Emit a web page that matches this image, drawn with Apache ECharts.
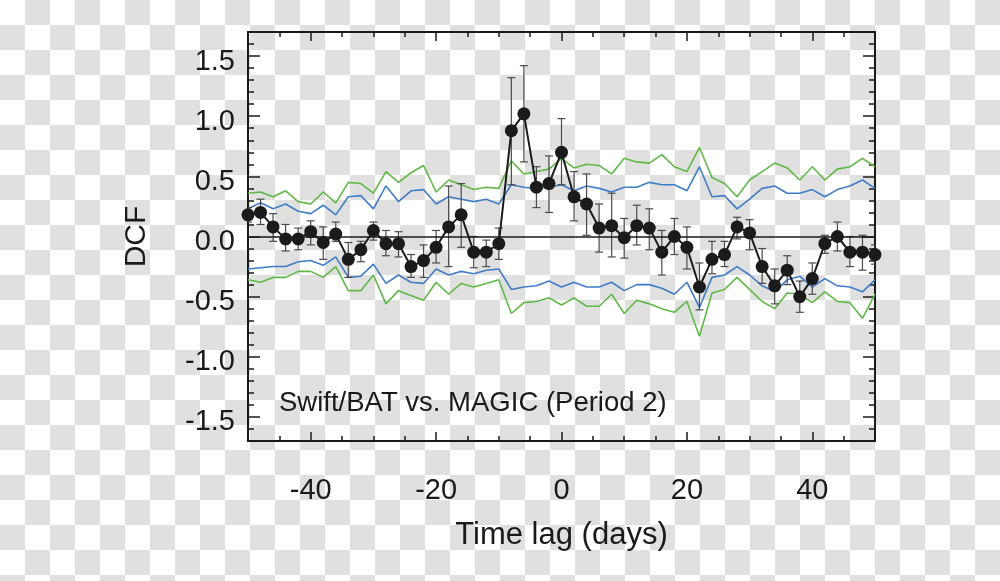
<!DOCTYPE html>
<html>
<head>
<meta charset="utf-8">
<script src="https://cdn.jsdelivr.net/npm/echarts@6/dist/echarts.min.js"></script>
<style>
html,body{margin:0;padding:0;}
body{width:1000px;height:581px;background:repeating-conic-gradient(#e0e0e0 0 25%, #ffffff 0 50%) 0 0/50px 50px;}
#c{width:1000px;height:581px;}
</style>
</head>
<body>
<div id="c"></div>
<script>
const lag = [-50,-48,-46,-44,-42,-40,-38,-36,-34,-32,-30,-28,-26,-24,-22,-20,-18,-16,-14,-12,-10,-8,-6,-4,-2,0,2,4,6,8,10,12,14,16,18,20,22,24,26,28,30,32,34,36,38,40,42,44,46,48,50];
const dcf = [0.18,0.20,0.08,-0.02,-0.02,0.04,-0.05,0.02,-0.19,-0.11,0.05,-0.06,-0.06,-0.25,-0.20,-0.09,0.08,0.18,-0.13,-0.13,-0.06,0.88,1.02,0.41,0.44,0.70,0.33,0.27,0.07,0.09,-0.01,0.09,0.07,-0.13,0.00,-0.09,-0.42,-0.19,-0.15,0.08,0.03,-0.25,-0.41,-0.28,-0.50,-0.35,-0.06,0.00,-0.13,-0.13,-0.15];
const errHigh = [0.24,0.31,0.19,0.10,0.07,0.13,0.08,0.12,-0.05,-0.04,0.12,0.05,0.04,-0.15,-0.07,0.05,0.42,0.44,0.00,-0.03,0.07,1.32,1.42,0.58,0.67,0.98,0.54,0.52,0.27,0.36,0.15,0.26,0.23,0.05,0.15,0.08,-0.22,-0.04,-0.04,0.16,0.14,-0.10,-0.27,-0.16,-0.37,-0.22,0.01,0.12,0.00,0.01,-0.07];
const errLow = [0.12,0.10,-0.04,-0.12,-0.11,-0.07,-0.19,-0.04,-0.34,-0.21,-0.03,-0.16,-0.17,-0.34,-0.34,-0.22,-0.25,-0.09,-0.26,-0.25,-0.19,0.43,0.62,0.24,0.20,0.43,0.13,0.01,-0.13,-0.17,-0.18,-0.07,-0.11,-0.32,-0.15,-0.27,-0.61,-0.31,-0.25,-0.02,-0.11,-0.39,-0.56,-0.40,-0.63,-0.48,-0.14,-0.12,-0.25,-0.28,-0.23];
const blueUpper = [0.23,0.28,0.23,0.27,0.21,0.19,0.26,0.18,0.33,0.34,0.23,0.42,0.29,0.38,0.39,0.27,0.33,0.31,0.29,0.31,0.27,0.43,0.41,0.40,0.41,0.43,0.38,0.42,0.40,0.37,0.41,0.41,0.45,0.43,0.43,0.38,0.58,0.33,0.34,0.23,0.31,0.40,0.42,0.36,0.36,0.39,0.33,0.39,0.42,0.47,0.40];
const greenUpper = [0.36,0.37,0.33,0.38,0.29,0.27,0.37,0.28,0.45,0.44,0.36,0.54,0.45,0.53,0.59,0.37,0.47,0.43,0.39,0.41,0.40,0.63,0.52,0.54,0.56,0.65,0.57,0.60,0.59,0.52,0.65,0.62,0.61,0.68,0.58,0.54,0.74,0.49,0.44,0.33,0.47,0.54,0.61,0.57,0.47,0.58,0.47,0.56,0.58,0.65,0.58];
const blueLower = [-0.27,-0.26,-0.25,-0.25,-0.21,-0.20,-0.24,-0.17,-0.34,-0.33,-0.23,-0.39,-0.32,-0.38,-0.39,-0.27,-0.32,-0.29,-0.31,-0.28,-0.27,-0.44,-0.42,-0.41,-0.37,-0.42,-0.38,-0.42,-0.42,-0.38,-0.45,-0.40,-0.40,-0.43,-0.48,-0.38,-0.59,-0.34,-0.32,-0.25,-0.32,-0.41,-0.46,-0.36,-0.33,-0.42,-0.35,-0.41,-0.42,-0.46,-0.36];
const greenLower = [-0.36,-0.38,-0.34,-0.34,-0.29,-0.29,-0.34,-0.25,-0.45,-0.45,-0.32,-0.56,-0.45,-0.49,-0.53,-0.38,-0.48,-0.39,-0.42,-0.39,-0.36,-0.64,-0.55,-0.54,-0.51,-0.57,-0.51,-0.58,-0.58,-0.48,-0.64,-0.53,-0.56,-0.60,-0.63,-0.54,-0.83,-0.47,-0.44,-0.34,-0.44,-0.54,-0.60,-0.47,-0.48,-0.55,-0.46,-0.54,-0.55,-0.68,-0.48];

const xTickLabels = [-40,-20,0,20,40];
const xMinorTicks = [-45,-35,-30,-25,-15,-10,-5,5,10,15,25,30,35,45];
const yTickLabels = [-1.5,-1.0,-0.5,0.0,0.5,1.0,1.5];
const yMinorTicks = [-1.6,-1.4,-1.3,-1.2,-1.1,-0.9,-0.8,-0.7,-0.6,-0.4,-0.3,-0.2,-0.1,0.1,0.2,0.3,0.4,0.6,0.7,0.8,0.9,1.1,1.2,1.3,1.4,1.6];
const annotation = 'Swift/BAT vs. MAGIC (Period 2)';
const xTitle = 'Time lag (days)';
const yTitle = 'DCF';

const FONT = '"Liberation Sans", Arial, Helvetica, sans-serif';
const INK = '#1a1a1a';
const GREEN = '#5fb946';
const BLUE = '#3f7dc9';

function xAx(pos, vals, len, withLabels, name) {
  return {
    type: 'value', position: pos, min: -50, max: 50, gridIndex: 0,
    axisLine: { show: true, onZero: false, lineStyle: { color: INK, width: 2 } },
    axisTick: { show: true, inside: true, length: len, customValues: vals, lineStyle: { color: INK, width: 1.5 } },
    axisLabel: withLabels ? { show: true, customValues: vals, margin: 35, fontSize: 29, lineHeight: 29, color: INK, fontFamily: FONT, formatter: v => String(v) } : { show: false },
    splitLine: { show: false },
    name: name || '', nameLocation: 'middle', nameGap: 79,
    nameTextStyle: { fontSize: 31, lineHeight: 31, color: INK, fontFamily: FONT }
  };
}
function yAx(pos, vals, len, withLabels, name) {
  return {
    type: 'value', position: pos, min: -1.7, max: 1.7, gridIndex: 0,
    axisLine: { show: true, onZero: false, lineStyle: { color: INK, width: 2 } },
    axisTick: { show: true, inside: true, length: len, customValues: vals, lineStyle: { color: INK, width: 1.5 } },
    axisLabel: withLabels ? { show: true, customValues: vals, margin: 13, fontSize: 29, verticalAlign: 'top', lineHeight: 11, color: INK, fontFamily: FONT, formatter: v => v.toFixed(1) } : { show: false },
    splitLine: { show: false },
    name: name || '', nameLocation: 'middle', nameGap: 96, nameRotate: 90,
    nameTextStyle: { fontSize: 30, lineHeight: 30, color: INK, fontFamily: FONT }
  };
}

const pairs = arr => lag.map((x, i) => [x, arr[i]]);

const chart = echarts.init(document.getElementById('c'), null, { renderer: 'canvas' });
chart.setOption({
  backgroundColor: 'transparent',
  animation: false,
  grid: { left: 248, top: 32, width: 627, height: 409, containLabel: false },
  xAxis: [
    xAx('bottom', xTickLabels, 9, true, xTitle),
    xAx('bottom', xMinorTicks, 5, false),
    xAx('top', xTickLabels, 9, false),
    xAx('top', xMinorTicks, 5, false)
  ],
  yAxis: [
    yAx('left', yTickLabels, 12, true, yTitle),
    yAx('left', yMinorTicks, 6, false),
    yAx('right', yTickLabels, 12, false),
    yAx('right', yMinorTicks, 6, false)
  ],
  graphic: [{
    type: 'text', left: 279, top: 389, z: 10,
    style: { text: annotation, fontSize: 27.5, fontFamily: FONT, fill: INK }
  }],
  series: [
    { type: 'line', data: pairs(greenUpper), showSymbol: false, symbol: 'none', lineStyle: { color: GREEN, width: 1.6 }, z: 2 },
    { type: 'line', data: pairs(greenLower), showSymbol: false, symbol: 'none', lineStyle: { color: GREEN, width: 1.6 }, z: 2 },
    { type: 'line', data: pairs(blueUpper), showSymbol: false, symbol: 'none', lineStyle: { color: BLUE, width: 1.6 }, z: 2 },
    { type: 'line', data: pairs(blueLower), showSymbol: false, symbol: 'none', lineStyle: { color: BLUE, width: 1.6 }, z: 2,
      markLine: { silent: true, symbol: 'none', label: { show: false }, lineStyle: { color: INK, width: 1.5, type: 'solid' }, data: [{ yAxis: 0 }] } },
    {
      type: 'custom', z: 3, clip: true,
      data: lag.map((x, i) => [x, errLow[i], errHigh[i]]),
      encode: { x: 0, y: [1, 2] },
      renderItem: function (params, api) {
        const x = api.value(0);
        const lo = api.coord([x, api.value(1)]);
        const hi = api.coord([x, api.value(2)]);
        const w = 4;
        const st = { stroke: '#4a4a4a', lineWidth: 1.2 };
        return { type: 'group', children: [
          { type: 'line', shape: { x1: lo[0], y1: lo[1], x2: hi[0], y2: hi[1] }, style: st },
          { type: 'line', shape: { x1: lo[0] - w, y1: lo[1], x2: lo[0] + w, y2: lo[1] }, style: st },
          { type: 'line', shape: { x1: hi[0] - w, y1: hi[1], x2: hi[0] + w, y2: hi[1] }, style: st }
        ] };
      }
    },
    { type: 'line', data: pairs(dcf), symbol: 'circle', symbolSize: 13, showSymbol: true,
      itemStyle: { color: '#1b1b1b' }, lineStyle: { color: '#1b1b1b', width: 2 }, z: 4 }
  ]
});
</script>
</body>
</html>
